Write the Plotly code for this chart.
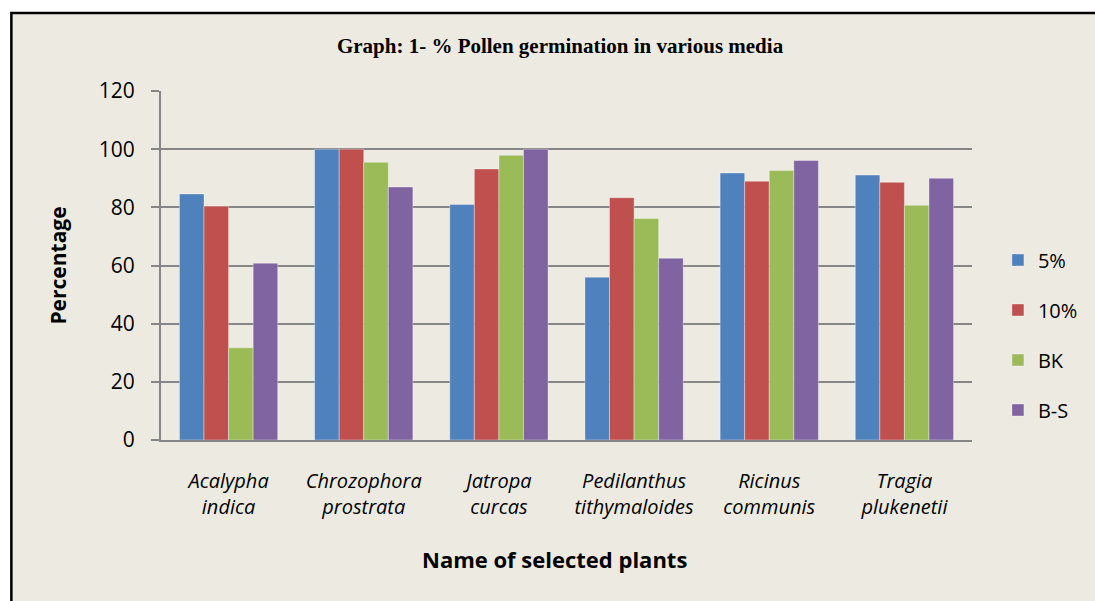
import plotly.graph_objects as go

categories = ["Acalypha<br>indica", "Chrozophora<br>prostrata", "Jatropa<br>curcas",
              "Pedilanthus<br>tithymaloides", "Ricinus<br>communis", "Tragia<br>plukenetii"]
series_names = ["5%", "10%", "BK", "B-S"]
v_5 = [84.6, 100, 81.0, 56.0, 91.8, 91.1]
v_10 = [80.4, 100, 93.2, 83.3, 89.0, 88.6]
v_bk = [31.7, 95.5, 97.9, 76.2, 92.7, 80.7]
v_bs = [60.8, 87.0, 100, 62.5, 96.1, 90.0]
y_ticks = [0, 20, 40, 60, 80, 100, 120]
colors = ["#4F81BD", "#C0504D", "#9BBB59", "#8064A2"]

W, H = 1095, 601
L, R, T, B = 161, 974, 91, 440
bg = "#EDEBE1"
sans = "Open Sans, sans-serif"

fig = go.Figure()
for name, vals, col in zip(series_names, [v_5, v_10, v_bk, v_bs], colors):
    fig.add_trace(go.Bar(
        x=categories, y=vals, name=name, legendgroup=name,
        marker=dict(color=col, line=dict(color="rgba(255,255,255,0.6)", width=0.6)),
    ))

def px_x(p):
    return (p - L) / (R - L)

def px_y(p):
    return (B - p) / (B - T)

fig.update_layout(
    width=W, height=H,
    margin=dict(l=L, r=W - R, t=T, b=H - B),
    paper_bgcolor="white", plot_bgcolor="white",
    barmode="group", bargap=0.273, bargroupgap=0,
    font=dict(family=sans, color="black"),
    title=dict(text="<b>Graph: 1- % Pollen germination in various media</b>",
               font=dict(family="Liberation Serif, Times New Roman, serif", size=21, color="black"),
               x=560 / W, xanchor="center", y=1 - 46 / H, yanchor="middle"),
    legend=dict(x=px_x(1000), xanchor="left", y=px_y(335), yanchor="middle",
                font=dict(size=20), bgcolor="rgba(0,0,0,0)", tracegroupgap=21),
    showlegend=True,
    annotations=[dict(text="<b>Name of selected plants</b>", xref="paper", yref="paper",
                      x=px_x(555), y=px_y(559), xanchor="center", yanchor="middle",
                      showarrow=False, font=dict(size=22, family=sans, color="black"))],
)
fig.update_xaxes(
    showline=True, linecolor="#868686", linewidth=2,
    ticks="outside", ticklen=22, tickcolor="rgba(0,0,0,0)",
    tickfont=dict(size=20, style="italic"),
    automargin=False,
)
fig.update_yaxes(
    range=[0, 120], tickvals=y_ticks,
    showgrid=True, gridcolor="#868686", gridwidth=1.5,
    showline=True, linecolor="#868686", linewidth=2,
    ticks="outside", ticklen=8, tickcolor="#868686", tickwidth=1.5,
    ticklabelstandoff=12,
    tickfont=dict(size=21),
    title=dict(text="<b>Percentage</b>", font=dict(size=21), standoff=26),
    zeroline=False, automargin=False,
)
fig.add_shape(type="rect", xref="paper", yref="paper",
              x0=px_x(11), x1=px_x(1110), y0=px_y(620), y1=px_y(13),
              line=dict(color="black", width=2.5), fillcolor=bg, layer="below")

fig.write_html("out.html", config={"displayModeBar": False},
               post_script="document.body.style.margin='0';document.body.style.overflow='hidden';")
